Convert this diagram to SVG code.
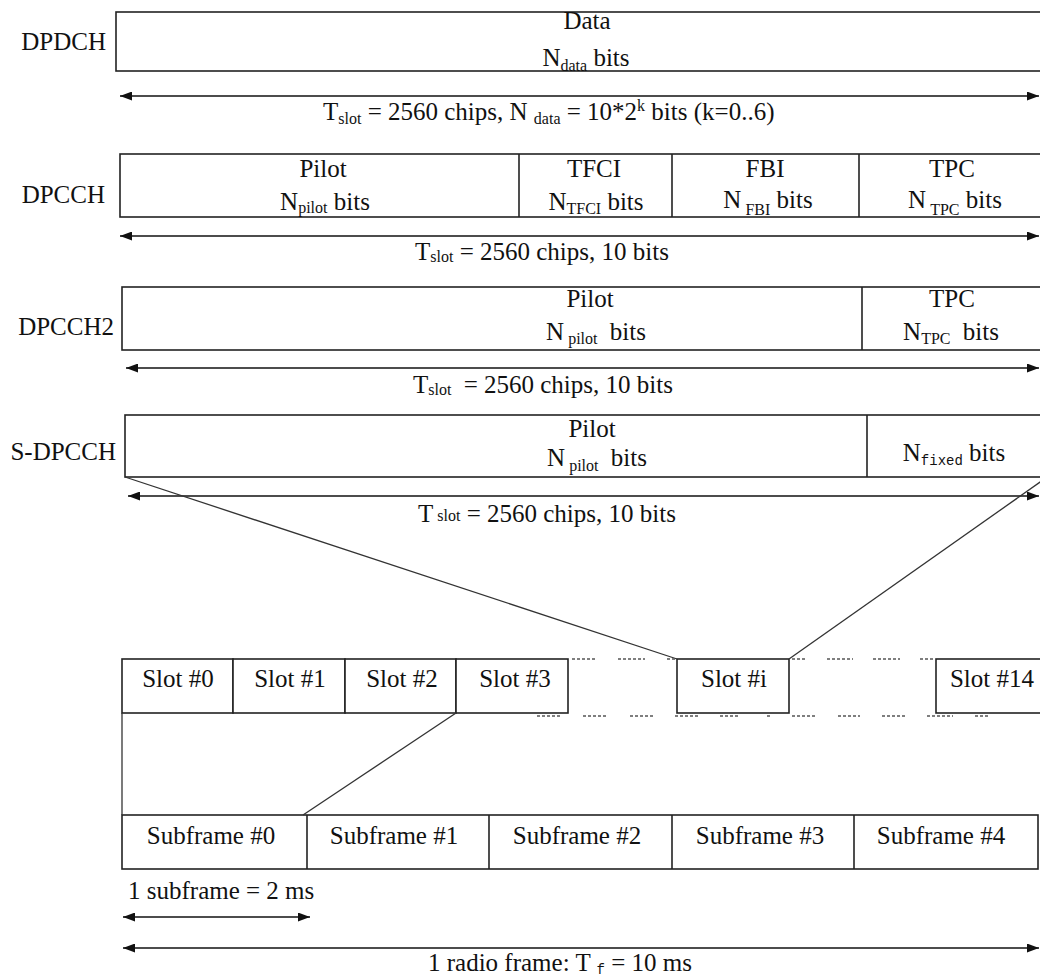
<svg xmlns="http://www.w3.org/2000/svg" width="1040" height="976" viewBox="0 0 1040 976" font-family="'Liberation Serif', 'DejaVu Serif', serif">
  <style>
    text { font-family: "Liberation Serif", "DejaVu Serif", serif; font-size: 25px; fill: #111; }
    .mid { text-anchor: middle; }
    .end { text-anchor: end; }
    .sub { font-size: 16px; }
    .mono { font-family: "Liberation Mono", "DejaVu Sans Mono", monospace; font-size: 14px; }
    .box { fill: #fff; stroke: #222; stroke-width: 1.6; }
    .div { stroke: #222; stroke-width: 1.6; }
    .dim { stroke: #111; stroke-width: 1.4; fill: none; }
    .fan { stroke: #333; stroke-width: 1.3; fill: none; }
    .dots { stroke: #555; stroke-width: 1.4; stroke-dasharray: 3 2; fill: none; }
  </style>
  <defs>
    <marker id="head" markerUnits="userSpaceOnUse" markerWidth="13" markerHeight="9" refX="12" refY="4.5" orient="auto-start-reverse">
      <path d="M0,0 L12,4.5 L0,9 Z" fill="#111"/>
    </marker>
  </defs>

  <rect width="1040" height="976" fill="#fff"/>

  <!-- DPDCH slot -->
  <g id="dpdch">
    <text class="end" x="106" y="50">DPDCH</text>
    <rect class="box" x="116" y="12" width="930" height="59"/>
    <text class="mid" x="587" y="29">Data</text>
    <text class="mid" x="586" y="66">N<tspan class="sub" dy="5">data</tspan><tspan dy="-5"> bits</tspan></text>
  </g>

  <!-- DPCCH slot -->
  <g id="dpcch">
    <text class="end" x="105" y="203">DPCCH</text>
    <rect class="box" x="120" y="154" width="926" height="63"/>
    <line class="div" x1="519" y1="154" x2="519" y2="217"/>
    <line class="div" x1="672" y1="154" x2="672" y2="217"/>
    <line class="div" x1="859" y1="154" x2="859" y2="217"/>
    <text class="mid" x="323" y="177">Pilot</text>
    <text class="mid" x="325" y="210">N<tspan class="sub" dy="3">pilot</tspan><tspan dy="-3"> bits</tspan></text>
    <text class="mid" x="594" y="177">TFCI</text>
    <text class="mid" x="596" y="210">N<tspan class="sub" dy="4">TFCI</tspan><tspan dy="-4"> bits</tspan></text>
    <text class="mid" x="765" y="177">FBI</text>
    <text class="mid" x="768" y="208">N<tspan class="sub" dx="4" dy="7">FBI</tspan><tspan dy="-7"> bits</tspan></text>
    <text class="mid" x="952" y="177">TPC</text>
    <text class="mid" x="955" y="208">N<tspan class="sub" dx="4" dy="7">TPC</tspan><tspan dy="-7"> bits</tspan></text>
  </g>

  <!-- DPCCH2 slot -->
  <g id="dpcch2">
    <text class="end" x="114" y="335">DPCCH2</text>
    <rect class="box" x="122" y="287" width="924" height="63"/>
    <line class="div" x1="862" y1="287" x2="862" y2="350"/>
    <text class="mid" x="590" y="307">Pilot</text>
    <text class="mid" x="596" y="340">N<tspan class="sub" dx="4" dy="4">pilot</tspan><tspan dx="6" dy="-4"> bits</tspan></text>
    <text class="mid" x="952" y="307">TPC</text>
    <text class="mid" x="951" y="340">N<tspan class="sub" dy="4">TPC</tspan><tspan dx="6" dy="-4"> bits</tspan></text>
  </g>

  <!-- S-DPCCH slot -->
  <g id="s-dpcch">
    <text class="end" x="116" y="460">S-DPCCH</text>
    <rect class="box" x="125" y="415" width="921" height="62"/>
    <line class="div" x1="867" y1="415" x2="867" y2="477"/>
    <text class="mid" x="592" y="437">Pilot</text>
    <text class="mid" x="597" y="466">N<tspan class="sub" dx="4" dy="5">pilot</tspan><tspan dx="6" dy="-5"> bits</tspan></text>
    <text class="mid" x="954" y="461">N<tspan class="mono" dy="4">fixed</tspan><tspan dy="-4"> bits</tspan></text>
  </g>

  <!-- Slots of one radio frame -->
  <g id="slots">
    <rect class="box" x="122" y="659" width="111" height="54"/>
    <rect class="box" x="233" y="659" width="112" height="54"/>
    <rect class="box" x="345" y="659" width="111" height="54"/>
    <rect class="box" x="456" y="659" width="112" height="54"/>
    <rect class="box" x="677" y="659" width="112" height="54"/>
    <rect class="box" x="936" y="659" width="110" height="54"/>
    <text class="mid" x="178" y="687">Slot #0</text>
    <text class="mid" x="290" y="687">Slot #1</text>
    <text class="mid" x="402" y="687">Slot #2</text>
    <text class="mid" x="515" y="687">Slot #3</text>
    <text class="mid" x="734" y="687">Slot #i</text>
    <text class="mid" x="992" y="687">Slot #14</text>
  </g>

  <!-- Subframes of one radio frame -->
  <g id="subframes">
    <rect class="box" x="122" y="815" width="916" height="54"/>
    <line class="div" x1="307" y1="815" x2="307" y2="869"/>
    <line class="div" x1="489" y1="815" x2="489" y2="869"/>
    <line class="div" x1="672" y1="815" x2="672" y2="869"/>
    <line class="div" x1="854" y1="815" x2="854" y2="869"/>
    <text class="mid" x="211" y="844">Subframe #0</text>
    <text class="mid" x="394" y="844">Subframe #1</text>
    <text class="mid" x="577" y="844">Subframe #2</text>
    <text class="mid" x="760" y="844">Subframe #3</text>
    <text class="mid" x="941" y="844">Subframe #4</text>
  </g>

  <!-- Dimension labels -->
  <g id="labels">
    <text x="323" y="120">T<tspan class="sub" dy="4">slot</tspan><tspan dy="-4"> = 2560 chips, N </tspan><tspan class="sub" dy="4">data</tspan><tspan dy="-4"> = 10*2</tspan><tspan class="sub" dy="-9">k</tspan><tspan dy="9"> bits (k=0..6)</tspan></text>
    <text x="415" y="260">T<tspan class="sub" dy="2">slot</tspan><tspan dy="-2"> = 2560 chips, 10 bits</tspan></text>
    <text x="413" y="393">T<tspan class="sub" dy="2">slot</tspan><tspan dx="6" dy="-2"> = 2560 chips, 10 bits</tspan></text>
    <text x="418" y="522">T<tspan class="sub" dx="4" dy="-1">slot</tspan><tspan dy="1"> = 2560 chips, 10 bits</tspan></text>
    <text x="128" y="899">1 subframe = 2 ms</text>
    <text x="428" y="971">1 radio frame: T <tspan class="mono" dy="3">f</tspan><tspan dy="-3"> = 10 ms</tspan></text>
  </g>

  <!-- Connectors: dimension arrows, expansion lines, gap dots -->
  <g id="connectors">
    <line class="dim" x1="120" y1="96" x2="1039" y2="96" marker-start="url(#head)" marker-end="url(#head)"/>
    <line class="dim" x1="120" y1="236" x2="1039" y2="236" marker-start="url(#head)" marker-end="url(#head)"/>
    <line class="dim" x1="126" y1="368" x2="1039" y2="368" marker-start="url(#head)" marker-end="url(#head)"/>
    <line class="dim" x1="128" y1="496" x2="1039" y2="496" marker-start="url(#head)" marker-end="url(#head)"/>
    <line class="dim" x1="123" y1="917" x2="310" y2="917" marker-start="url(#head)" marker-end="url(#head)"/>
    <line class="dim" x1="123" y1="948" x2="1039" y2="948" marker-start="url(#head)" marker-end="url(#head)"/>

    <line class="fan" x1="125" y1="477" x2="677" y2="659"/>
    <line class="fan" x1="1043" y1="480" x2="789" y2="659"/>
    <line class="fan" x1="122" y1="713" x2="122" y2="815"/>
    <line class="fan" x1="456" y1="713" x2="303" y2="815"/>

    <path class="dots" d="M572,659H595 M618,659H645 M667,659H675 M792,659H805 M827,659H853 M873,659H900 M920,659H933"/>
    <path class="dots" d="M537,716H560 M583,716H608 M630,716H653 M675,716H700 M720,716H740 M767,716H770 M792,716H817 M838,716H860 M882,716H907 M927,716H953 M975,716H990"/>
  </g>
</svg>
